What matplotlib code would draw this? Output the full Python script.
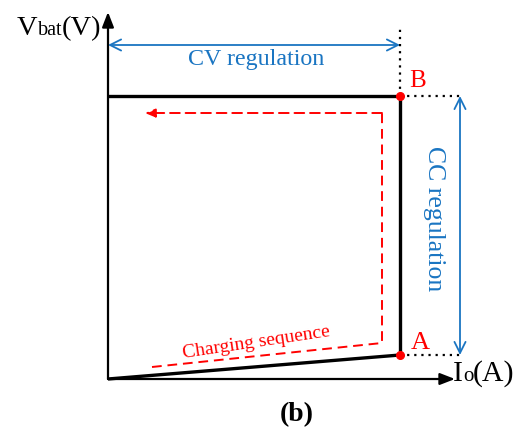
import matplotlib
matplotlib.use("Agg")
import matplotlib.pyplot as plt
from matplotlib.transforms import offset_copy

plt.rcParams['font.family'] = ['Liberation Serif', 'DejaVu Serif']

# Operating envelope (current, voltage) in drawing units
origin = (0, 0)
point_A = (292, 24)      # end of CC charging
point_B = (292, 283)     # start of CV charging
axis_x_end = 347
axis_y_end = 367

# Charging sequence path (dashed red)
seq_x = [44, 274, 274, 37]
seq_y = [12, 36, 266, 266]

fig = plt.figure(figsize=(5.16, 4.29), dpi=100)
ax = fig.add_axes([0, 0, 1, 1])
ax.set_xlim(-108, 408)
ax.set_ylim(-50, 379)
ax.axis('off')

# Axes with filled arrowheads
for tip in [(axis_x_end, 0), (0, axis_y_end)]:
    ax.annotate('', xy=tip, xytext=(0, 0),
                arrowprops=dict(arrowstyle='-|>,head_length=0.9,head_width=0.35',
                                color='black', lw=1.6, shrinkA=0, shrinkB=0))

# Envelope: bottom slope, CC edge, CV edge
ax.plot([origin[0], point_A[0]], [origin[1], point_A[1]], color='black', lw=2.4,
        solid_capstyle='butt')
ax.plot([point_A[0], point_B[0]], [point_A[1], point_B[1]], color='black', lw=2.4,
        solid_capstyle='projecting')
ax.plot([0, point_B[0]], [point_B[1], point_B[1]], color='black', lw=2.4,
        solid_capstyle='butt')

# Dotted guides
dots = (0, (1, 2.2))
ax.plot([point_B[0], point_B[0]], [point_B[1], 351], color='black', lw=1.6, linestyle=dots)
ax.plot([point_B[0], 352], [point_B[1], point_B[1]], color='black', lw=1.6, linestyle=dots)
ax.plot([point_A[0], 352], [point_A[1], point_A[1]], color='black', lw=1.6, linestyle=dots)

# Operating points
ax.plot([point_A[0], point_B[0]], [point_A[1], point_B[1]], 'o', color='red',
        markersize=5.5, zorder=5)
ax.text(point_A[0] + 11, point_A[1] + 6, 'A', color='red', fontsize=19,
        ha='left', va='baseline')
ax.text(point_B[0] + 9, point_B[1] + 9, 'B', color='red', fontsize=18,
        ha='left', va='baseline')

# Regulation ranges
blue = '#1a75c2'
ax.annotate('', xy=(0, 334), xytext=(point_B[0], 334),
            arrowprops=dict(arrowstyle='<->,head_length=0.8,head_width=0.4',
                            color=blue, lw=1.3, shrinkA=0, shrinkB=0))
ax.text(148, 320, 'CV regulation', color=blue, fontsize=17.3,
        ha='center', va='center')
ax.annotate('', xy=(352, point_B[1]), xytext=(352, point_A[1]),
            arrowprops=dict(arrowstyle='<->,head_length=0.8,head_width=0.4',
                            color=blue, lw=1.3, shrinkA=0, shrinkB=0))
ax.text(326, 160, 'CC regulation', color=blue,
        fontsize=18.5, rotation=-90, ha='center', va='center')

# Charging sequence
ax.plot(seq_x[:-1], seq_y[:-1], color='red', lw=1.4, linestyle=(0, (5, 3)))
ax.annotate('', xy=(seq_x[-1], seq_y[-1]), xytext=(seq_x[-2], seq_y[-2]),
            arrowprops=dict(arrowstyle='-|>,head_length=0.6,head_width=0.25',
                            color='red', lw=1.4, linestyle=(0, (5, 3)),
                            shrinkA=0, shrinkB=0))
ax.text(148, 36, 'Charging sequence', color='red', fontsize=14,
        rotation=8.5, ha='center', va='center', rotation_mode='anchor')


def run_text(x, y, pieces):
    """Draw text pieces of different sizes one after another on a baseline."""
    renderer = fig.canvas.get_renderer()
    dx = 0.0
    for s, size in pieces:
        tr = offset_copy(ax.transData, fig=fig, x=dx, y=0, units='dots')
        t = ax.text(x, y, s, fontsize=size, ha='left', va='baseline', transform=tr)
        dx += t.get_window_extent(renderer).width


# Axis labels
run_text(-91, 344, [('V', 20.5), ('bat', 14.5), ('(V)', 20.5)])
run_text(345, -2, [('I', 21.5), ('o', 15), ('(A)', 21.5)])

ax.text(189, -42, '(b)', fontsize=20, fontweight='bold', ha='center',
        va='baseline')

fig.savefig('out.png', dpi=100)
